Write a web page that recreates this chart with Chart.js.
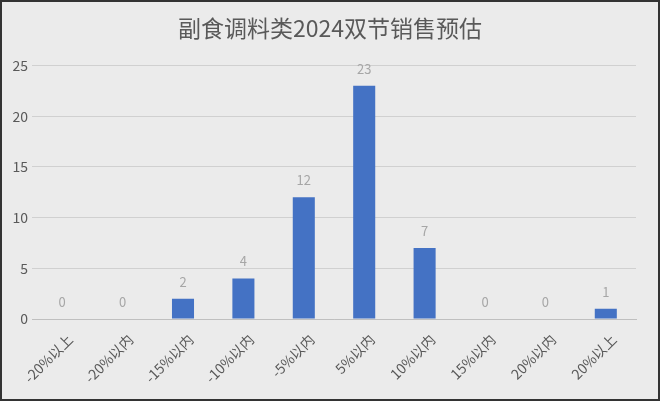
<!DOCTYPE html>
<html>
<head>
<meta charset="utf-8">
<script src="https://cdn.jsdelivr.net/npm/chart.js@4"></script>
<style>
  html, body { margin: 0; padding: 0; background: #ebebeb; }
  #wrap { width: 656px; height: 397px; border: 2px solid #333; background: #ebebeb; position: relative; }
</style>
</head>
<body>
<div id="wrap"><canvas id="chart"></canvas></div>
<script>
const titulo = "副食调料类2024双节销售预估";
const categorias = ["-20%以上", "-20%以内", "-15%以内", "-10%以内", "-5%以内", "5%以内", "10%以内", "15%以内", "20%以内", "20%以上"];
const valores = [0, 0, 2, 4, 12, 23, 7, 0, 0, 1];
const ticksY = [0, 5, 10, 15, 20, 25];

const fuente = "'Noto Sans CJK SC', 'Noto Sans', sans-serif";

// etiquetas encima de cada barra
const etiquetasPlugin = {
  id: "etiquetas",
  afterDatasetsDraw(chart) {
    const ctx = chart.ctx;
    const meta = chart.getDatasetMeta(0);
    ctx.save();
    ctx.fillStyle = "#a6a6a6";
    ctx.font = "13px " + fuente;
    ctx.textAlign = "center";
    ctx.textBaseline = "middle";
    meta.data.forEach((bar, i) => {
      ctx.fillText(String(valores[i]), bar.x, bar.y - 17);
    });
    ctx.restore();
  }
};

const ctx = document.getElementById("chart").getContext("2d");
new Chart(ctx, {
  type: "bar",
  data: {
    labels: categorias,
    datasets: [{
      data: valores,
      backgroundColor: "#4472c4",
      categoryPercentage: 1,
      barPercentage: 0.365,
    }],
  },
  options: {
    responsive: true,
    maintainAspectRatio: false,
    animation: false,
    layout: { padding: 0 },
    plugins: {
      legend: { display: false },
      tooltip: { enabled: false },
      title: {
        display: true,
        text: titulo,
        color: "#595959",
        font: { family: fuente, size: 23, weight: "normal" },
        padding: { top: 12, bottom: 24 },
      },
    },
    scales: {
      x: {
        grid: { display: false },
        border: { color: "#bfbfbf" },
        afterFit(axis) { axis.height = 80; },
        ticks: {
          color: "#595959",
          font: { family: fuente, size: 14 },
          minRotation: 45,
          maxRotation: 45,
          padding: 4,
          labelOffset: 8,
        },
      },
      y: {
        min: 0,
        max: 25,
        afterBuildTicks(axis) {
          axis.ticks = ticksY.map(v => ({ value: v }));
        },
        afterFit(axis) { axis.width = 30; },
        grid: { color: "#d0d0d0", drawTicks: false },
        border: { display: false },
        ticks: {
          color: "#595959",
          font: { family: fuente, size: 14 },
          padding: 4,
        },
      },
      // eje vacío a la derecha, solo para dejar margen
      margen: {
        position: "right",
        grid: { display: false },
        border: { display: false },
        ticks: { display: false },
        afterFit(axis) { axis.width = 22; },
      },
    },
  },
  plugins: [etiquetasPlugin],
});
</script>
</body>
</html>
